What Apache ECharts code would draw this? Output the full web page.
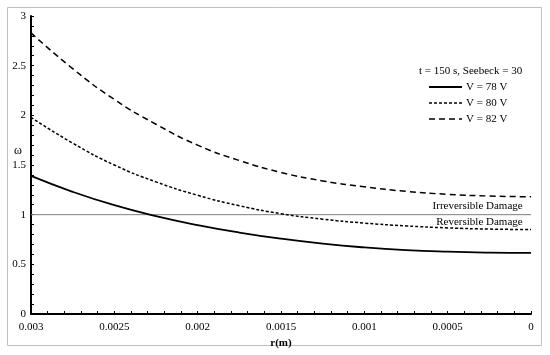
<!DOCTYPE html>
<html><head><meta charset="utf-8">
<script src="https://cdn.jsdelivr.net/npm/echarts@6/dist/echarts.min.js"></script>
<style>html,body{margin:0;padding:0;background:#fff}#c{width:550px;height:355px}</style>
</head><body><div id="c"></div>
<script>
const radius = [0.003, 0.00275, 0.0025, 0.00225, 0.002, 0.00175, 0.0015, 0.00125, 0.001, 0.00075, 0.0005, 0.00025, 0];
const omegaV78 = [1.39, 1.23, 1.095, 0.985, 0.895, 0.82, 0.758, 0.708, 0.67, 0.643, 0.627, 0.618, 0.615];
const omegaV80 = [1.98, 1.72, 1.50, 1.33, 1.195, 1.09, 1.01, 0.955, 0.915, 0.887, 0.867, 0.855, 0.85];
const omegaV82 = [2.83, 2.47, 2.16, 1.91, 1.70, 1.545, 1.425, 1.34, 1.28, 1.235, 1.205, 1.188, 1.18];
const thresholdR = [0.003, 0];
const thresholdW = [1, 1];
const seriesNames = ['V = 78 V', 'V = 80 V', 'V = 82 V'];
const legendTitle = 't = 150 s, Seebeck = 30';
const xTicks = ['0.003', '0.0025', '0.002', '0.0015', '0.001', '0.0005', '0'];
const yTicks = ['0', '0.5', '1', '1.5', '2', '2.5', '3'];

const FONT = '"Liberation Serif", "Times New Roman", serif';
const pair = (xs, ys) => xs.map((x, i) => [x, ys[i]]);
const chart = echarts.init(document.getElementById('c'), null, {renderer: 'canvas'});

const styles = [
  {width: 1.8, type: 'solid'},
  {width: 1.5, type: [3, 2]},
  {width: 1.5, type: [6, 4]}
];
const legendGraphics = [];
seriesNames.forEach((n, i) => {
  const y = 87 + i * 16;
  legendGraphics.push({type: 'line', shape: {x1: 429, y1: y, x2: 462, y2: y},
    style: {stroke: '#000', lineWidth: styles[i].width, lineDash: styles[i].type === 'solid' ? null : styles[i].type}});
  legendGraphics.push({type: 'text', x: 466, y: y, style: {text: n, font: '11px ' + FONT, fill: '#000', verticalAlign: 'middle'}});
});

chart.setOption({
  animation: false,
  textStyle: {fontFamily: FONT, color: '#000'},
  grid: {left: 31, right: 19, top: 16, bottom: 41, containLabel: false},
  graphic: [
    {type: 'rect', shape: {x: 7.5, y: 7.5, width: 534, height: 338}, style: {fill: 'none', stroke: '#bfbfbf', lineWidth: 1}, z: -1},
    {type: 'text', x: 419, y: 71, style: {text: legendTitle, font: '11px ' + FONT, fill: '#000', verticalAlign: 'middle'}},
    {type: 'text', x: 18, y: 151, style: {text: 'ω', font: '12px ' + FONT, fill: '#000', align: 'center', verticalAlign: 'middle'}}
  ].concat(legendGraphics),
  xAxis: {
    type: 'value', min: 0, max: 0.003, interval: 0.0005, inverse: true,
    name: 'r(m)', nameLocation: 'middle', nameGap: 21,
    nameTextStyle: {fontFamily: FONT, fontSize: 11, fontWeight: 'bold', color: '#000'},
    axisLine: {onZero: false, lineStyle: {color: '#000', width: 2}},
    axisTick: {inside: true, length: 3, lineStyle: {color: '#000', width: 1}},
    minorTick: {show: true, splitNumber: 5, length: 3, lineStyle: {color: '#000', width: 1}},
    splitLine: {show: false},
    axisLabel: {fontFamily: FONT, fontSize: 11, color: '#000', margin: 8,
      formatter: v => xTicks.find(t => Math.abs(parseFloat(t) - v) < 1e-9) || ''}
  },
  yAxis: {
    type: 'value', min: 0, max: 3, interval: 0.5, position: 'left',
    axisLine: {show: true, onZero: false, lineStyle: {color: '#000', width: 2}},
    axisTick: {show: true, inside: true, length: 3, lineStyle: {color: '#000', width: 1}},
    minorTick: {show: true, splitNumber: 5, length: 3, lineStyle: {color: '#000', width: 1}},
    splitLine: {show: false},
    axisLabel: {fontFamily: FONT, fontSize: 11, color: '#000', margin: 5,
      formatter: v => yTicks.find(t => Math.abs(parseFloat(t) - v) < 1e-9) || ''}
  },
  series: [
    {name: 'threshold', type: 'line', data: pair(thresholdR, thresholdW), symbol: 'none',
      lineStyle: {color: '#7f7f7f', width: 1}, silent: true, z: 1,
      markPoint: {symbol: 'circle', symbolSize: 0, silent: true,
        data: [
          {coord: [0.00005, 1], label: {show: true, formatter: 'Irreversible Damage', position: 'left', offset: [0, -9], distance: 0, fontFamily: FONT, fontSize: 11, color: '#000'}},
          {coord: [0.00005, 1], label: {show: true, formatter: 'Reversible Damage', position: 'left', offset: [0, 7], distance: 0, fontFamily: FONT, fontSize: 11, color: '#000'}}
        ]}},
    {name: seriesNames[0], type: 'line', data: pair(radius, omegaV78), smooth: true, symbol: 'none',
      lineStyle: {color: '#000', width: styles[0].width, type: styles[0].type}},
    {name: seriesNames[1], type: 'line', data: pair(radius, omegaV80), smooth: true, symbol: 'none',
      lineStyle: {color: '#000', width: styles[1].width, type: styles[1].type}},
    {name: seriesNames[2], type: 'line', data: pair(radius, omegaV82), smooth: true, symbol: 'none',
      lineStyle: {color: '#000', width: styles[2].width, type: styles[2].type}}
  ]
});
</script></body></html>
